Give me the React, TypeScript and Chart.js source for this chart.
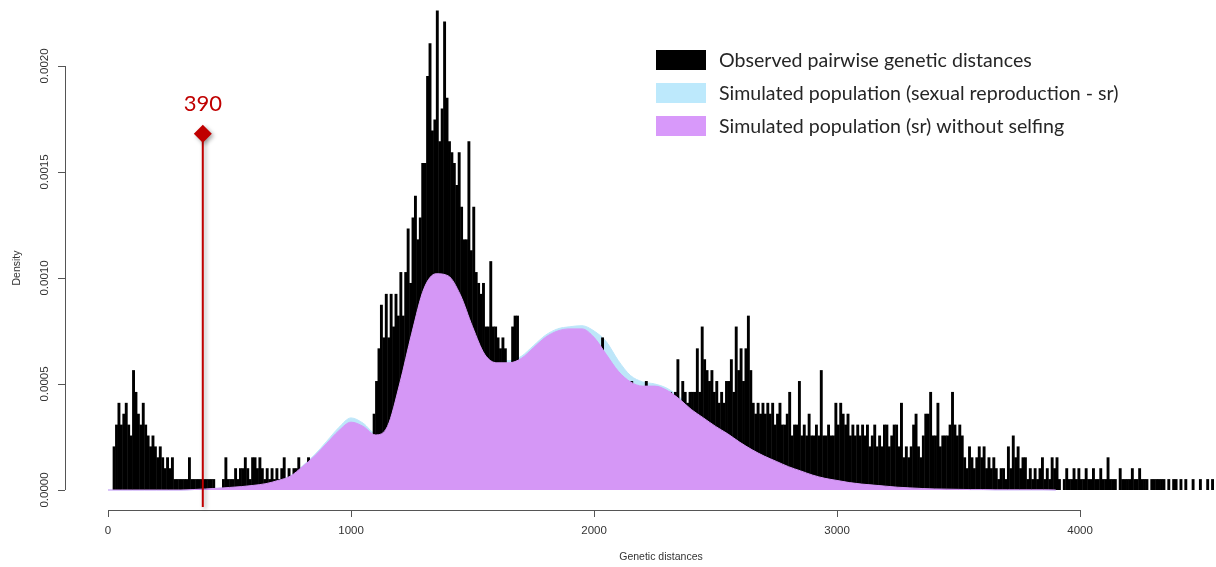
import React, { useEffect, useRef } from 'react';
import { Chart, registerables } from 'chart.js';

Chart.register(...registerables);

// ---------- DATA ----------
// Observed pairwise genetic distances: histogram counts in bins of 10 (0..4550)
const BIN_WIDTH = 10;
const DENSITY_PER_COUNT = 0.0000514;
const observedCounts: number[] = [
  0, 0, 4, 6, 8, 6, 7, 8, 6, 5,
  11, 9, 7, 6, 8, 6, 5, 4, 5, 4,
  3, 4, 3, 2, 3, 2, 3, 1, 1, 1,
  1, 1, 1, 3, 1, 1, 1, 1, 1, 1,
  1, 1, 1, 1, 0, 0, 0, 1, 3, 1,
  1, 1, 2, 1, 2, 2, 3, 2, 1, 3,
  3, 2, 3, 2, 1, 2, 1, 2, 1, 2,
  1, 2, 3, 1, 2, 1, 2, 2, 3, 2,
  2, 2, 3, 2, 2, 3, 2, 3, 2, 3,
  3, 4, 3, 4, 5, 4, 5, 5, 4, 5,
  5, 5, 4, 5, 5, 4, 5, 4, 4, 7,
  10, 13, 17, 14, 18, 14, 18, 15, 18, 16,
  20, 16, 20, 24, 19, 25, 27, 23, 25, 30,
  30, 38, 41, 33, 34, 44, 32, 35, 43, 36,
  32, 31, 30, 28, 31, 26, 23, 23, 32, 22,
  26, 20, 19, 18, 19, 15, 15, 21, 15, 15,
  14, 13, 14, 13, 11, 10, 15, 16, 16, 11,
  10, 11, 12, 10, 11, 12, 11, 12, 13, 12,
  12, 13, 12, 13, 12, 13, 12, 13, 12, 13,
  13, 12, 13, 12, 13, 12, 13, 12, 12, 13,
  13, 12, 11, 14, 11, 10, 11, 10, 9, 10,
  10, 9, 10, 9, 9, 10, 9, 9, 8, 9,
  8, 10, 9, 8, 9, 8, 9, 8, 9, 8,
  8, 9, 8, 9, 12, 8, 10, 9, 8, 9,
  9, 9, 13, 9, 15, 12, 11, 10, 11, 9,
  10, 8, 9, 8, 10, 10, 12, 9, 15, 11,
  13, 10, 13, 16, 11, 8, 7, 8, 7, 8,
  7, 8, 7, 8, 6, 7, 8, 6, 6, 7,
  9, 5, 6, 6, 10, 5, 6, 5, 7, 5,
  5, 6, 5, 11, 5, 5, 6, 5, 5, 8,
  6, 8, 7, 6, 7, 5, 6, 5, 6, 5,
  6, 5, 6, 4, 5, 6, 4, 5, 4, 6,
  6, 4, 5, 6, 6, 4, 8, 3, 4, 3,
  4, 6, 7, 4, 3, 5, 7, 7, 9, 5,
  5, 8, 4, 5, 5, 5, 6, 9, 6, 5,
  6, 5, 3, 2, 4, 3, 2, 3, 4, 3,
  4, 2, 3, 2, 3, 2, 1, 2, 2, 1,
  4, 2, 5, 3, 4, 2, 3, 3, 1, 2,
  1, 2, 1, 2, 3, 1, 2, 1, 3, 2,
  3, 1, 0, 1, 2, 1, 1, 2, 1, 2,
  1, 1, 2, 1, 1, 2, 1, 1, 2, 1,
  1, 3, 1, 1, 1, 0, 2, 1, 1, 1,
  1, 2, 1, 1, 2, 1, 1, 1, 0, 1,
  1, 1, 1, 1, 1, 0, 1, 0, 1, 1,
  0, 1, 0, 1, 0, 0, 1, 0, 0, 1,
  0, 0, 1, 0, 1,
];

// Simulated densities (in units of 1e-5) at these genetic distances
const SIM_UNIT = 0.00001;
const simDistances: number[] = [
  0, 50, 100, 150, 200, 250, 300, 350, 400, 450,
  500, 550, 600, 650, 700, 750, 800, 850, 900, 950,
  1000, 1050, 1100, 1150, 1200, 1250, 1300, 1350, 1400, 1450,
  1500, 1550, 1600, 1650, 1700, 1750, 1800, 1850, 1900, 1950,
  2000, 2050, 2100, 2150, 2200, 2250, 2300, 2350, 2400, 2450,
  2500, 2550, 2600, 2650, 2700, 2750, 2800, 2850, 2900, 2950,
  3000, 3050, 3100, 3150, 3200, 3250, 3300, 3350, 3400, 3450,
  3500, 3550, 3600, 3650, 3700, 3750, 3800, 3850, 3900,
];
const simSexual: number[] = [
  0, 0, 0, 0, 0, 0, 0, 0.2, 0.5, 0.8,
  1.2, 1.7, 2.3, 3.1, 4.6, 6.7, 11.3, 16.6, 23, 29.5,
  34, 31.5, 26.8, 31, 51, 75, 96, 103, 102, 93,
  78, 65, 61, 61, 63, 68, 73, 76, 77, 77.5,
  75, 70, 61, 54, 51, 50, 48, 44, 39, 35,
  31, 27.5, 23.5, 20, 17, 14, 11.5, 9.5, 7.5, 6,
  5, 3.8, 3, 2.4, 1.9, 1.4, 1.1, 0.8, 0.6, 0.4,
  0.3, 0.2, 0.2, 0.1, 0.1, 0.1, 0.1, 0.1, 0,
];
const simNoSelfing: number[] = [
  0, 0, 0, 0, 0, 0, 0, 0.2, 0.5, 0.8,
  1.2, 1.6, 2.2, 3, 4.5, 6.5, 11, 16, 22, 28,
  32, 30, 26, 30, 50, 74, 95, 102, 101, 92,
  77, 64, 60, 60, 62, 67, 72, 75, 76, 76,
  72, 64, 56, 51, 49, 49, 47, 43, 38, 34,
  30, 26.5, 22.5, 19, 16, 13.5, 11, 9, 7, 5.5,
  4.5, 3.5, 2.8, 2.3, 1.8, 1.3, 1, 0.7, 0.5, 0.4,
  0.3, 0.2, 0.2, 0.1, 0.1, 0.1, 0.1, 0.1, 0,
];

const xTicks: number[] = [0, 1000, 2000, 3000, 4000];
const yTicks: number[] = [0, 0.0005, 0.001, 0.0015, 0.002];
const yTickLabels: string[] = ['0.0000', '0.0005', '0.0010', '0.0015', '0.0020'];
const seriesLabels: string[] = [
  'Observed pairwise genetic distances',
  'Simulated population (sexual reproduction - sr)',
  'Simulated population (sr) without selfing',
];
const xTitle = 'Genetic distances';
const yTitle = 'Density';
const markerValue = 390;
const markerLabel = '390';
const markerTopDensity = 0.00168;

// ---------- STYLE ----------
const BLACK = '#000000';
const BLUE = '#bde6f9';
const PURPLE = '#d597f6';
const LEGEND_BLUE = '#bde9fc';
const LEGEND_PURPLE = '#d899fa';
const RED = '#c00000';
const AXIS_COLOR = '#555555';
const TEXT_COLOR = '#333333';
const TICK_FONT = '11.5px "Liberation Sans", Arial, sans-serif';
const TITLE_FONT = '10.5px "Liberation Sans", Arial, sans-serif';

const decorPlugin = {
  id: 'decor',
  afterDatasetsDraw(chart: any) {
    const { ctx, chartArea } = chart;
    const xs = chart.scales.x;
    const ys = chart.scales.y;
    ctx.save();

    // --- X axis (R style) ---
    const axisY = chartArea.bottom;
    ctx.strokeStyle = AXIS_COLOR;
    ctx.lineWidth = 1;
    ctx.beginPath();
    const xa = Math.round(xs.getPixelForValue(xTicks[0]));
    const xb = Math.round(xs.getPixelForValue(xTicks[xTicks.length - 1]));
    ctx.moveTo(xa, axisY + 0.5);
    ctx.lineTo(xb, axisY + 0.5);
    xTicks.forEach((t) => {
      const p = Math.round(xs.getPixelForValue(t)) + 0.5;
      ctx.moveTo(p, axisY);
      ctx.lineTo(p, axisY + 7);
    });
    // --- Y axis ---
    const axisX = chartArea.left;
    const ya = Math.round(ys.getPixelForValue(yTicks[0]));
    const yb = Math.round(ys.getPixelForValue(yTicks[yTicks.length - 1]));
    ctx.moveTo(axisX + 0.5, ya);
    ctx.lineTo(axisX + 0.5, yb);
    yTicks.forEach((t) => {
      const p = Math.round(ys.getPixelForValue(t)) + 0.5;
      ctx.moveTo(axisX, p);
      ctx.lineTo(axisX - 7, p);
    });
    ctx.stroke();

    ctx.fillStyle = TEXT_COLOR;
    ctx.font = TICK_FONT;
    ctx.textAlign = 'center';
    ctx.textBaseline = 'middle';
    xTicks.forEach((t) => {
      ctx.fillText(String(t), xs.getPixelForValue(t), axisY + 21);
    });
    yTicks.forEach((t, i) => {
      ctx.save();
      ctx.translate(axisX - 20, ys.getPixelForValue(t));
      ctx.rotate(-Math.PI / 2);
      ctx.fillText(yTickLabels[i], 0, 0);
      ctx.restore();
    });
    ctx.font = TITLE_FONT;
    ctx.fillText(xTitle, 661, 557);
    ctx.save();
    ctx.translate(17, 268);
    ctx.rotate(-Math.PI / 2);
    ctx.fillText(yTitle, 0, 0);
    ctx.restore();

    // --- Marker at 390 ---
    const mx = xs.getPixelForValue(markerValue);
    const mTop = ys.getPixelForValue(markerTopDensity);
    ctx.save();
    ctx.shadowColor = 'rgba(0,0,0,0.35)';
    ctx.shadowBlur = 4;
    ctx.shadowOffsetX = 2;
    ctx.shadowOffsetY = 2;
    ctx.strokeStyle = RED;
    ctx.lineWidth = 2;
    ctx.beginPath();
    ctx.moveTo(mx, mTop);
    ctx.lineTo(mx, axisY - 3);
    ctx.stroke();
    ctx.fillStyle = RED;
    ctx.beginPath();
    ctx.moveTo(mx, mTop - 9);
    ctx.lineTo(mx + 9, mTop);
    ctx.lineTo(mx, mTop + 9);
    ctx.lineTo(mx - 9, mTop);
    ctx.closePath();
    ctx.fill();
    ctx.restore();
    ctx.fillStyle = RED;
    ctx.font = '22px Lato, "Liberation Sans", sans-serif';
    ctx.textAlign = 'center';
    ctx.textBaseline = 'alphabetic';
    ctx.fillText(markerLabel, mx, mTop - 23);

    // --- Legend ---
    const labels = chart.data.datasets.map((d: any) => d.label);
    const boxColors = [BLACK, LEGEND_BLUE, LEGEND_PURPLE];
    const rowsY = [60, 93, 126];
    let fs = 19;
    ctx.font = `${fs}px Lato, "Liberation Sans", sans-serif`;
    const w = ctx.measureText(labels[0]).width;
    fs = (fs * 313) / w;
    ctx.font = `${fs}px Lato, "Liberation Sans", sans-serif`;
    ctx.textAlign = 'left';
    ctx.textBaseline = 'middle';
    labels.forEach((lab: string, r: number) => {
      ctx.fillStyle = boxColors[r];
      ctx.fillRect(656, rowsY[r] - 10, 50, 20);
      ctx.fillStyle = '#262626';
      ctx.fillText(lab, 719, rowsY[r] + 1);
    });
    ctx.restore();
  },
};

export default function App() {
  const ref = useRef<HTMLCanvasElement | null>(null);

  useEffect(() => {
    if (!ref.current) return;
    const observed = observedCounts.map((c, i) => ({
      x: i * BIN_WIDTH + BIN_WIDTH / 2,
      y: c * DENSITY_PER_COUNT,
    }));
    const sexual = simDistances.map((d, i) => ({ x: d, y: simSexual[i] * SIM_UNIT }));
    const noSelf = simDistances.map((d, i) => ({ x: d, y: simNoSelfing[i] * SIM_UNIT }));

    const chart = new Chart(ref.current, {
      type: 'bar',
      data: {
        datasets: [
          {
            type: 'bar',
            label: seriesLabels[0],
            data: observed,
            backgroundColor: BLACK,
            borderWidth: 0,
            barThickness: 2.9,
            inflateAmount: 0,
            order: 2,
          } as any,
          {
            type: 'line',
            label: seriesLabels[1],
            data: sexual,
            borderColor: BLUE,
            backgroundColor: BLUE,
            borderWidth: 1,
            pointRadius: 0,
            fill: 'origin',
            cubicInterpolationMode: 'monotone',
            order: 3,
          } as any,
          {
            type: 'line',
            label: seriesLabels[2],
            data: noSelf,
            borderColor: PURPLE,
            backgroundColor: PURPLE,
            borderWidth: 1,
            pointRadius: 0,
            fill: 'origin',
            cubicInterpolationMode: 'monotone',
            order: 1,
          } as any,
        ],
      },
      options: {
        responsive: false,
        devicePixelRatio: 1,
        animation: false,
        layout: { padding: { left: 65, right: 2, top: 0, bottom: 57 } },
        plugins: { legend: { display: false }, tooltip: { enabled: false } },
        scales: {
          x: { type: 'linear', min: -177, max: 4551, offset: false, display: false },
          y: { type: 'linear', min: -0.00009434, max: 0.0023113, display: false },
        },
      } as any,
      plugins: [decorPlugin],
    });
    return () => chart.destroy();
  }, []);

  return (
    <div style={{ position: 'absolute', left: 0, top: 0, width: 1216, height: 567, background: '#ffffff' }}>
      <canvas ref={ref} width={1216} height={567} style={{ display: 'block', width: 1216, height: 567 }} />
    </div>
  );
}
